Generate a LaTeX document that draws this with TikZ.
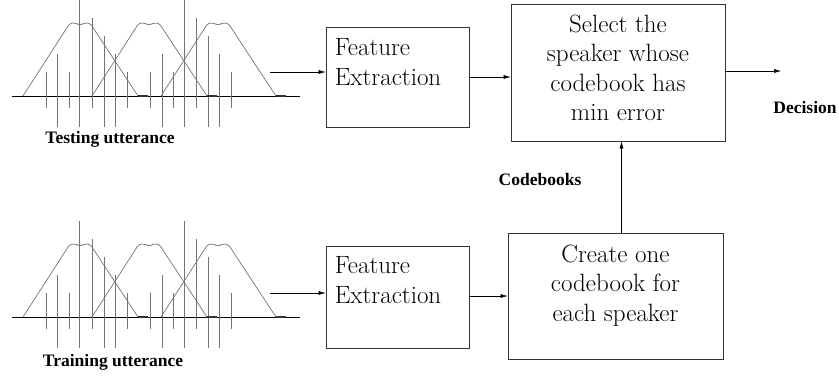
\documentclass[tikz,border=0pt]{standalone}
\usepackage{fontspec}
\newfontfamily\tagfont{Liberation Serif}
\usetikzlibrary{arrows.meta,positioning}

\tikzset{
  utterance/.pic={
    \draw[black, line width=0.8pt] (12,96) -- (300,96);
    \foreach \x/\a/\b in {46/72/108, 57/54/127, 69/72/108, 79/0/127,
        92/18/108, 104/36/127, 115/54/127, 127/72/108,
        150/72/108, 162/54/127, 173/72/108, 184/0/127,
        196/18/108, 208/36/127, 219/54/127, 231/72/108}
      \draw[black!55, line width=1pt] (\x,\a) -- (\x,\b);
    \foreach \s in {0,69,138}{
      \draw[black!55, line width=0.7pt, rounded corners=3pt]
        (23+\s,96) -- (70+\s,23) -- (76+\s,23) -- (80+\s,25.5)
        -- (84+\s,23) -- (90+\s,23) -- (138+\s,96);
      \draw[black!80, line width=1.6pt] (138+\s,96) -- (148+\s,96);
    }
  }
}

\begin{document}
\begin{tikzpicture}[x=1pt, y=-1pt, >={Latex[length=7pt,width=4pt]},
  block/.style={draw=black!80, line width=0.9pt, inner sep=0pt},
  blocktext/.style={font=\fontsize{25}{29.5}\selectfont, inner sep=0pt},
  tag/.style={font=\tagfont\fontsize{17.5}{20}\selectfont\bfseries, inner sep=0pt}]
\useasboundingbox (0,0) rectangle (839,381);

% the two utterances
\pic at (0,0) {utterance};
\pic at (0,221) {utterance};
\node[tag] (testing) at (110,139) {Testing utterance};
\node[tag] (training) at (113,362) {Training utterance};
\coordinate (test-out) at (270,72);
\coordinate (train-out) at (270,293);

% blocks
\node[block, minimum width=143pt, minimum height=100pt] (extract1) at (397.5,77) {};
\node[blocktext, align=left, anchor=north west] (extract1-text)
  at ([shift={(9,12)}]extract1.north west) {Feature\\Extraction};
\node[block, minimum width=214pt, minimum height=137pt] (select) at (618,72.5) {};
\node[blocktext, align=center, anchor=north] (select-text)
  at ([yshift=-11pt]select.north) {Select the\\speaker whose\\codebook has\\min error};
\node[block, minimum width=143pt, minimum height=102pt] (extract2) at (397.5,297) {};
\node[blocktext, align=left, anchor=north west] (extract2-text)
  at ([shift={(9,11)}]extract2.north west) {Feature\\Extraction};
\node[block, minimum width=215pt, minimum height=126pt] (create) at (615.5,296) {};
\node[blocktext, align=center, anchor=north] (create-text)
  at ([yshift=-12pt]create.north) {Create one\\codebook for\\each speaker};

\coordinate (decision-end) at (781,71);
\node[tag] (decision) at (805,108) {Decision};
\node[tag] (codebooks) at (540,180) {Codebooks};

% connectors
\draw[->] (test-out) -- (extract1.west |- test-out);
\draw[->] (extract1.east) -- (extract1.east -| select.west);
\draw[->] (select.east |- decision-end) -- (decision-end);
\draw[->] (train-out) -- (extract2.west |- train-out);
\draw[->] (extract2.east |- create.west) -- (create.west);
\draw[->] ([xshift=6pt]create.north) -- ([xshift=6pt]create.north |- select.south);
\end{tikzpicture}
\end{document}
